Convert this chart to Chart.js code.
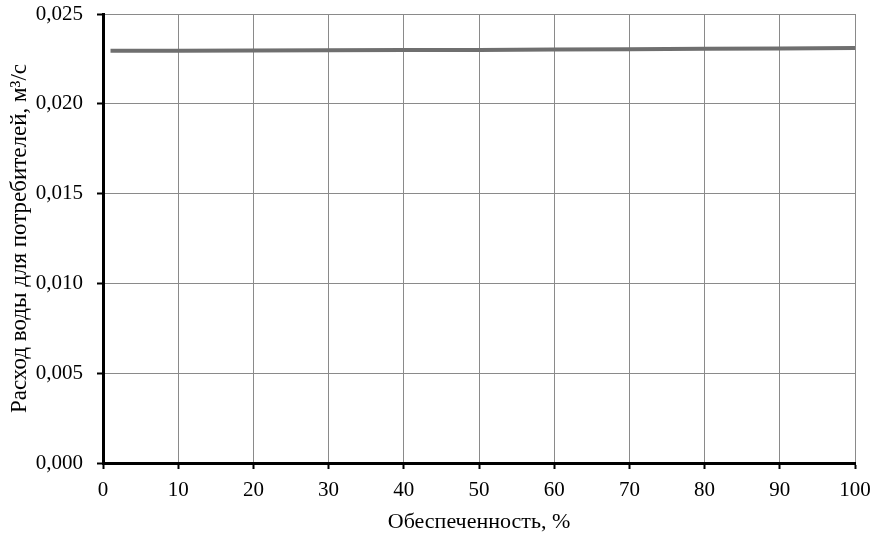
<!DOCTYPE html>
<html>
<head>
<meta charset="utf-8">
<script src="https://cdn.jsdelivr.net/npm/chart.js@4.4.0/dist/chart.umd.min.js"></script>
<style>
  html, body { margin: 0; padding: 0; background: #fff; }
  #wrap { width: 875px; height: 535px; position: relative; }
</style>
</head>
<body>
<div id="wrap"><canvas id="chart"></canvas></div>
<script>
// Data
var provision = [1, 10, 20, 30, 40, 50, 60, 70, 80, 90, 100];   // Обеспеченность, %
var waterUse = [0.02295, 0.02296, 0.02297, 0.02298, 0.02299, 0.0230, 0.02302, 0.02304, 0.02306, 0.02308, 0.0231];
var xTicks = [0, 10, 20, 30, 40, 50, 60, 70, 80, 90, 100];
var yTicks = [0, 0.005, 0.010, 0.015, 0.020, 0.025];

var serif = "'Liberation Serif', 'DejaVu Serif', serif";

var points = provision.map(function (x, i) { return { x: x, y: waterUse[i] }; });

new Chart(document.getElementById("chart"), {
    type: 'scatter',
    data: {
        datasets: [{
            data: points,
            showLine: true,
            borderColor: '#6f6f6f',
            borderWidth: 4,
            pointRadius: 0,
            fill: false
        }]
    },
    options: {
        responsive: true,
        maintainAspectRatio: false,
        animation: false,
        layout: { padding: { top: 14, right: 20, left: 6, bottom: 0 } },
        plugins: { legend: { display: false }, tooltip: { enabled: false } },
        scales: {
            x: {
                type: 'linear',
                min: 0, max: 100,
                afterBuildTicks: function (scale) {
                    scale.ticks = xTicks.map(function (v) { return { value: v }; });
                },
                afterFit: function (scale) {
                    scale.height = 72;
                    scale.paddingLeft = 0;
                    scale.paddingRight = 0;
                },
                grid: { color: '#8a8a8a', lineWidth: 1, tickLength: 6, tickColor: '#000', tickWidth: 2 },
                border: { color: '#000', width: 3 },
                ticks: { color: '#000', font: { family: serif, size: 21 }, padding: 9, maxRotation: 0 },
                title: {
                    display: true,
                    text: 'Обеспеченность, %',
                    color: '#000',
                    font: { family: serif, size: 22 },
                    padding: { top: 0, bottom: 0 }
                }
            },
            y: {
                min: 0, max: 0.025,
                afterBuildTicks: function (scale) {
                    scale.ticks = yTicks.map(function (v) { return { value: v }; });
                },
                afterFit: function (scale) {
                    scale.width = 97;
                    scale.paddingTop = 0;
                    scale.paddingBottom = 0;
                },
                grid: { color: '#8a8a8a', lineWidth: 1, tickLength: 6, tickColor: '#000', tickWidth: 2 },
                border: { color: '#000', width: 3 },
                ticks: {
                    color: '#000',
                    font: { family: serif, size: 21 },
                    padding: 14,
                    callback: function (v) { return v.toFixed(3).replace('.', ','); }
                },
                title: {
                    display: true,
                    text: 'Расход воды для потребителей, м³/с',
                    color: '#000',
                    font: { family: serif, size: 23 },
                    padding: { top: 0, bottom: 0 }
                }
            }
        }
    }
});
</script>
</body>
</html>
